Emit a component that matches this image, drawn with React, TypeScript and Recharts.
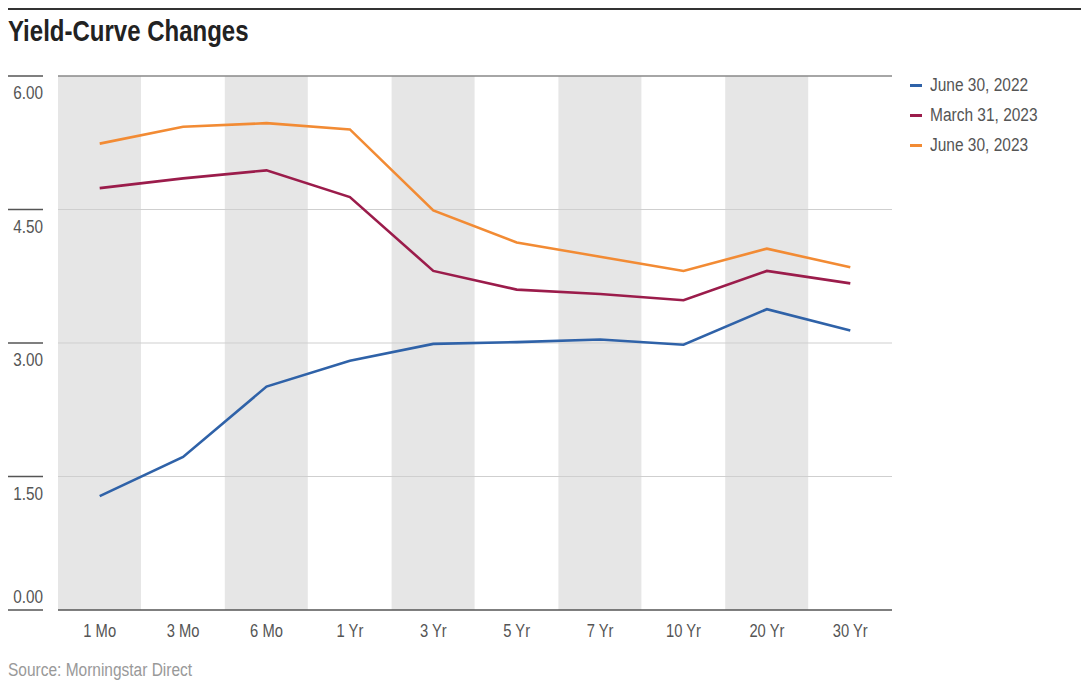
import { ComposedChart, Line, Bar, XAxis, YAxis, ReferenceLine } from 'recharts';

const categories = ['1 Mo', '3 Mo', '6 Mo', '1 Yr', '3 Yr', '5 Yr', '7 Yr', '10 Yr', '20 Yr', '30 Yr'];
const june2022 = [1.28, 1.72, 2.51, 2.8, 2.99, 3.01, 3.04, 2.98, 3.38, 3.14];
const march2023 = [4.74, 4.85, 4.94, 4.64, 3.81, 3.6, 3.55, 3.48, 3.81, 3.67];
const june2023 = [5.24, 5.43, 5.47, 5.4, 4.49, 4.13, 3.97, 3.81, 4.06, 3.85];
const shadedCategories = ['1 Mo', '6 Mo', '3 Yr', '7 Yr', '20 Yr'];
const yTicks = [0, 1.5, 3, 4.5, 6];

const series = [
  { key: 'june2022', name: 'June 30, 2022', color: '#2f62a8' },
  { key: 'march2023', name: 'March 31, 2023', color: '#9b1c4b' },
  { key: 'june2023', name: 'June 30, 2023', color: '#f28b34' },
];

// no narrow font installed, so squeeze Liberation Sans horizontally instead
const FONT = '"Liberation Sans", Arial, sans-serif';
const SQUEEZE = 0.82;
// body keeps its 8px margin; anything outside #root gets cut off, so
// page coordinates are shifted by this and edge items start at the margin
const OFF = 8;

// rows for the chart, band = height of the grey column behind a category
const data = categories.map((cat, i) => ({
  name: cat,
  june2022: june2022[i],
  march2023: march2023[i],
  june2023: june2023[i],
  band: shadedCategories.includes(cat) ? yTicks[yTicks.length - 1] : null,
}));

const YTick = ({ y, payload }: any) => {
  const isZero = payload.value === 0;
  const ty = isZero ? y - 7 : y + 23;
  return (
    <g>
      <line x1={8} x2={43} y1={y} y2={y} stroke="#555" strokeWidth={1.5} />
      <text
        transform={`translate(43,${ty}) scale(0.85,1)`}
        textAnchor="end"
        fill="#555"
        fontSize={18}
        fontFamily={FONT}
      >
        {payload.value.toFixed(2)}
      </text>
    </g>
  );
};

const XTick = ({ x, y, payload }: any) => (
  <text
    transform={`translate(${x},${y}) scale(${SQUEEZE},1)`}
    textAnchor="middle"
    dy="0.71em"
    fill="#555"
    fontSize={18}
    fontFamily={FONT}
  >
    {payload.value}
  </text>
);

const App = () => {
  return (
    <div style={{ position: 'relative', width: 1089 - 2 * OFF, height: 682 - OFF, fontFamily: FONT }}>
      <div style={{ position: 'absolute', left: -OFF, top: -OFF }}>
        <ComposedChart
          width={1089}
          height={660}
          data={data}
          margin={{ top: 76, right: 197, bottom: 0, left: 0 }}
          barCategoryGap={0}
        >
          <XAxis
            dataKey="name"
            axisLine={{ stroke: '#555', strokeWidth: 1.5 }}
            tickLine={false}
            tickMargin={8}
            height={50}
            tick={<XTick />}
            interval={0}
          />
          <YAxis
            domain={[0, 6]}
            ticks={yTicks}
            width={58}
            axisLine={false}
            tickLine={false}
            tick={<YTick />}
            interval={0}
          />
          <Bar dataKey="band" fill="#e6e6e6" isAnimationActive={false} />
          {yTicks.slice(1).map((t) => (
            <ReferenceLine
              key={t}
              y={t}
              stroke={t === 6 ? '#888' : '#cfcfcf'}
              strokeWidth={t === 6 ? 1.5 : 1}
            />
          ))}
          {series.map((s) => (
            <Line
              key={s.key}
              dataKey={s.key}
              name={s.name}
              stroke={s.color}
              strokeWidth={2.6}
              dot={false}
              activeDot={false}
              isAnimationActive={false}
            />
          ))}
        </ComposedChart>
      </div>

      <div style={{ position: 'absolute', left: 0, top: 0, width: 1073, height: 2, background: '#333' }} />
      <div
        style={{
          position: 'absolute',
          left: 0,
          top: 14 - OFF,
          fontSize: 30,
          fontWeight: 'bold',
          color: '#222',
          lineHeight: '34px',
          whiteSpace: 'nowrap',
          transform: 'scale(0.8,1)',
          transformOrigin: 'left top',
        }}
      >
        Yield-Curve Changes
      </div>

      {series.map((s, i) => (
        <div
          key={s.key}
          style={{
            position: 'absolute',
            left: 910 - OFF,
            top: 74 - OFF + i * 30,
            height: 22,
            display: 'flex',
            alignItems: 'center',
          }}
        >
          <span style={{ display: 'inline-block', width: 12, height: 3, background: s.color, marginRight: 8 }} />
          <span
            style={{
              display: 'inline-block',
              fontSize: 18,
              color: '#555',
              whiteSpace: 'nowrap',
              transform: 'scale(0.86,1)',
              transformOrigin: 'left center',
            }}
          >
            {s.name}
          </span>
        </div>
      ))}

      <div
        style={{
          position: 'absolute',
          left: 0,
          top: 659 - OFF,
          fontSize: 18,
          color: '#999',
          lineHeight: '22px',
          whiteSpace: 'nowrap',
          transform: 'scale(0.86,1)',
          transformOrigin: 'left top',
        }}
      >
        Source: Morningstar Direct
      </div>
    </div>
  );
};

export default App;
